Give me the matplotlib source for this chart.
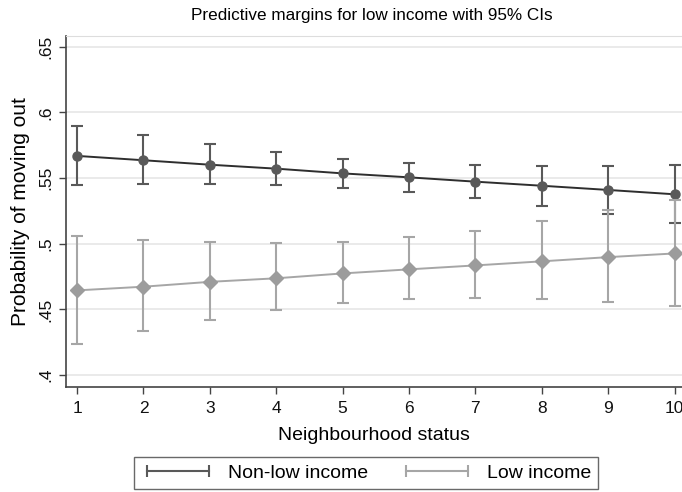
import matplotlib.pyplot as plt
from matplotlib.lines import Line2D

# neighbourhood status categories
status = [1, 2, 3, 4, 5, 6, 7, 8, 9, 10]

# non-low income margins and 95% CI
nonlow = [0.5668, 0.5635, 0.5601, 0.5571, 0.5535, 0.5505, 0.5472, 0.5441, 0.5409, 0.5376]
nonlow_lo = [0.5444, 0.5452, 0.5452, 0.5444, 0.5426, 0.5396, 0.5349, 0.5284, 0.5226, 0.5159]
nonlow_hi = [0.5896, 0.5826, 0.5759, 0.5696, 0.5645, 0.5617, 0.5599, 0.5594, 0.5594, 0.5600]

# low income margins and 95% CI
low = [0.4645, 0.4673, 0.4710, 0.4737, 0.4774, 0.4805, 0.4835, 0.4866, 0.4898, 0.4926]
low_lo = [0.4238, 0.4337, 0.4420, 0.4497, 0.4546, 0.4576, 0.4586, 0.4576, 0.4555, 0.4524]
low_hi = [0.5060, 0.5030, 0.5013, 0.5005, 0.5013, 0.5048, 0.5099, 0.5170, 0.5256, 0.5330]

yticks = [0.4, 0.45, 0.5, 0.55, 0.6, 0.65]
ylabels = ['.4', '.45', '.5', '.55', '.6', '.65']

plt.rcParams['font.family'] = ['Liberation Sans', 'DejaVu Sans']

dark = '#595959'
light = '#a6a6a6'

fig = plt.figure(figsize=(6.82, 4.92), dpi=100)
ax = fig.add_axes([0.0968, 0.2134, 0.9032, 0.7134])

err_n = [[m - l for m, l in zip(nonlow, nonlow_lo)], [h - m for m, h in zip(nonlow, nonlow_hi)]]
err_l = [[m - l for m, l in zip(low, low_lo)], [h - m for m, h in zip(low, low_hi)]]

ax.errorbar(status, nonlow, yerr=err_n, fmt='none', ecolor=dark, elinewidth=1.5,
            capsize=4, capthick=1.5, zorder=3)
ax.plot(status, nonlow, color='#2e2e2e', lw=1.4, zorder=4)
ax.plot(status, nonlow, 'o', color=dark, ms=6.5, zorder=5)

ax.errorbar(status, low, yerr=err_l, fmt='none', ecolor=light, elinewidth=1.5,
            capsize=4, capthick=1.5, zorder=6)
ax.plot(status, low, color=light, lw=1.4, zorder=7)
ax.plot(status, low, 'D', color='#9c9c9c', ms=7, zorder=8)

ax.set_xlim(0.834, 10.111)
ax.set_ylim(0.391, 0.658)
ax.set_xticks(status)
ax.set_yticks(yticks)
ax.set_yticklabels(ylabels, rotation=90, va='center')
ax.tick_params(axis='both', direction='out', length=5, width=1, color='#444444',
               labelsize=12.5, colors='#111111')
ax.tick_params(axis='x', pad=5)
ax.tick_params(axis='y', pad=4)
ax.grid(axis='y', color='#e6e6e6', lw=1.2)
ax.set_axisbelow(True)

for side in ['left', 'bottom']:
    ax.spines[side].set_color('#444444')
    ax.spines[side].set_linewidth(1.2)
ax.spines['right'].set_visible(False)
ax.spines['top'].set_color('#dddddd')

ax.set_ylabel('Probability of moving out', fontsize=15, labelpad=6)
ax.set_xlabel('Neighbourhood status', fontsize=14, labelpad=8)
fig.text(0.545, 0.968, 'Predictive margins for low income with 95% CIs',
         ha='center', va='center', fontsize=12.3)

handles = [Line2D([0], [0], color=dark, lw=1.5, marker='|', ms=9, mew=1.5),
           Line2D([0], [0], color=light, lw=1.5, marker='|', ms=9, mew=1.5)]
leg = fig.legend(handles, ['Non-low income', 'Low income'], loc='center',
                 bbox_to_anchor=(0.537, 0.0386), ncol=2, numpoints=2, frameon=True,
                 fancybox=False, edgecolor='#444444', fontsize=14, handlelength=3.8,
                 handletextpad=0.7, columnspacing=1.6, borderpad=0.35, borderaxespad=0)
leg.get_frame().set_linewidth(1.0)

plt.savefig('out.png', dpi=100)
